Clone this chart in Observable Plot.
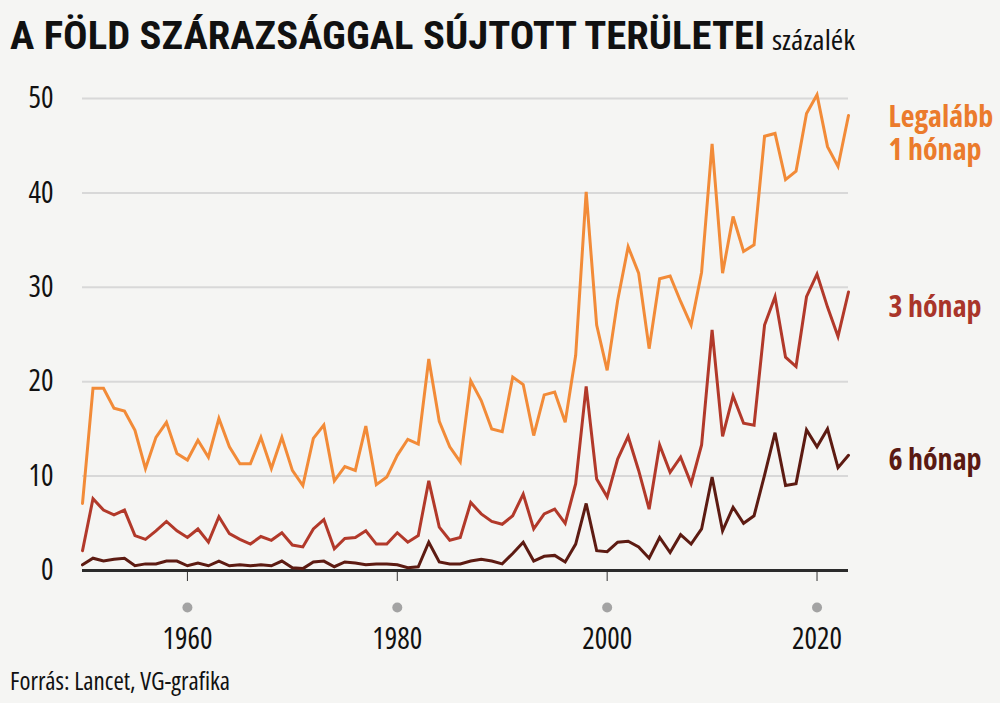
<!DOCTYPE html>
<html><head><meta charset="utf-8">
<script src="https://cdn.jsdelivr.net/npm/d3@7"></script>
<script src="https://cdn.jsdelivr.net/npm/@observablehq/plot@0.6"></script>
<style>
html,body{margin:0;padding:0;background:#f5f5f3;}
body{width:1000px;height:703px;overflow:hidden;position:relative;}
#title{height:70px;position:relative;white-space:nowrap;}
.abs{position:absolute;display:inline-block;line-height:1;white-space:nowrap;transform-origin:0 50%;}
#t1{left:10px;top:17px;font-family:Roboto,sans-serif;font-stretch:75%;font-size:39px;font-weight:bold;color:#111;}
#t2{left:772px;top:25px;font-family:"Open Sans",sans-serif;font-stretch:75%;font-size:28px;color:#111;}
#chart svg text{font-family:"Open Sans",sans-serif;font-stretch:75%;}
#caption{left:10px;top:667px;font-family:"Open Sans",sans-serif;font-stretch:75%;font-size:26px;color:#111;}
</style></head><body>
<div id="title"><span id="t1" class="abs">A FÖLD SZÁRAZSÁGGAL SÚJTOTT TERÜLETEI</span><span id="t2" class="abs">százalék</span></div>
<div id="chart"></div>
<span id="caption" class="abs">Forrás: Lancet, VG-grafika</span>
<script>
const years = d3.range(1950, 2024);
const legalabb1 = [7.1,19.3,19.3,17.2,16.9,14.85,10.8,14.1,15.7,12.4,
  11.7,13.8,12.0,16.1,13.1,11.3,11.3,14.1,10.8,14.1,
  10.6,9.0,14.0,15.4,9.5,11.0,10.6,15.3,9.1,9.9,
  12.2,13.9,13.4,22.4,15.8,13.1,11.5,20.1,18.0,15.0,
  14.7,20.5,19.7,14.3,18.6,18.9,15.7,22.8,40.1,26.0,
  21.2,28.6,34.3,31.5,23.5,30.9,31.2,28.5,26.0,31.6,
  45.2,31.5,37.5,33.8,34.5,46.0,46.3,41.4,42.3,48.4,
  50.4,44.9,42.8,48.2];
const honap3 = [2.1,7.6,6.4,5.9,6.4,3.7,3.3,4.2,5.2,4.2,
  3.5,4.4,3.0,5.7,3.9,3.3,2.8,3.6,3.2,4.0,
  2.7,2.5,4.4,5.4,2.3,3.4,3.5,4.2,2.8,2.8,
  4.0,3.0,3.7,9.5,4.6,3.2,3.5,7.2,6.0,5.2,
  4.9,5.8,8.1,4.4,6.0,6.5,5.0,9.2,19.5,9.7,
  7.8,11.8,14.2,10.6,6.5,13.3,10.4,12.0,9.2,13.3,
  25.5,14.2,18.5,15.6,15.4,26.0,29.0,22.6,21.6,29.0,
  31.4,27.9,24.8,29.5];
const honap6 = [0.6,1.3,1.0,1.2,1.3,0.5,0.7,0.7,1.0,1.0,
  0.5,0.8,0.5,1.0,0.5,0.6,0.5,0.6,0.5,1.0,
  0.3,0.2,0.9,1.0,0.4,0.9,0.8,0.6,0.7,0.7,
  0.6,0.3,0.4,3.0,0.9,0.7,0.7,1.0,1.2,1.0,
  0.7,1.8,3.0,1.0,1.5,1.6,0.9,2.8,7.1,2.1,
  2.0,3.0,3.1,2.5,1.3,3.5,1.9,3.8,2.8,4.4,
  9.9,4.2,6.7,5.0,5.8,10.1,14.6,9.0,9.2,14.9,
  13.1,15.0,10.9,12.2];
const yTicks = [0,10,20,30,40,50];
const xTicks = [1960,1980,2000,2020];
const seriesNames = ["Legalább\n1 hónap","3 hónap","6 hónap"];
const colors = ["#f28b38","#b2392a","#5d1b12"];
const labelColors = ["#eb7b2c","#a9352a","#5a1a12"];

const series = [legalabb1, honap3, honap6];
const data = series.flatMap((vals, i) => vals.map((v, j) => ({year: years[j], value: v, s: i})));
const last = series.map((vals, i) => ({year: years[years.length-1], value: vals[vals.length-1], s: i, name: seriesNames[i]}));

const chart = Plot.plot({
  width: 1000, height: 595,
  marginLeft: 82, marginRight: 152, marginTop: 28, marginBottom: 95,
  style: {background: "transparent", color: "#111"},
  x: {domain: [1950, 2023]},
  y: {domain: [0, 50]},
  marks: [
    Plot.gridY(yTicks.filter(d => d > 0), {stroke: "#d8d8d8", strokeOpacity: 1, strokeWidth: 2}),
    Plot.axisY(yTicks, {tickSize: 0, tickPadding: 29, fontSize: 30, label: null, tickFormat: d => String(d)}),
    Plot.axisX(xTicks, {tickSize: 11, tickPadding: 46, fontSize: 30, label: null, tickFormat: d => String(d), stroke: "#333"}),
    Plot.dot(xTicks, {x: d => d, frameAnchor: "bottom", dy: 37, r: 5, fill: "#a3a3a3", stroke: null}),
    Plot.ruleY([0], {stroke: "#2b2b2b", strokeWidth: 3}),
    Plot.line(data, {x: "year", y: "value", z: "s", stroke: d => colors[d.s], strokeWidth: 3, strokeLinejoin: "miter", strokeMiterlimit: 4}),
    Plot.text([last[0]], {x: "year", y: "value", text: "name", dx: 40, dy: 17, textAnchor: "start", fill: labelColors[0], fontSize: 30, fontWeight: "bold", lineHeight: 1.1, ariaLabel: "lab0"}),
    Plot.text([last[1]], {x: "year", y: "value", text: "name", dx: 40, dy: 15, textAnchor: "start", fill: labelColors[1], fontSize: 30, fontWeight: "bold", ariaLabel: "lab1"}),
    Plot.text([last[2]], {x: "year", y: "value", text: "name", dx: 40, dy: 5, textAnchor: "start", fill: labelColors[2], fontSize: 30, fontWeight: "bold", ariaLabel: "lab2"})
  ]
});
document.getElementById("chart").appendChild(chart);

// condense glyphs horizontally (textLength) to match the narrow typeface of the original
function parts(t) {
  const tsp = t.querySelectorAll("tspan");
  return tsp.length ? Array.from(tsp) : [t];
}
function condense(nodes, target) {
  nodes = Array.from(nodes);
  if (!nodes.length) return;
  const w0 = Math.max(...parts(nodes[0]).map(e => e.getComputedTextLength()));
  if (!(w0 > 0)) return;
  const sx = Math.min(1, target / w0);
  for (const t of nodes) {
    for (const e of parts(t)) {
      const w = e.getComputedTextLength();
      e.setAttribute("textLength", (w * sx).toFixed(2));
      e.setAttribute("lengthAdjust", "spacingAndGlyphs");
    }
  }
}
const xs = Array.from(chart.querySelectorAll('g[aria-label="x-axis tick label"] text'));
condense(xs, 50);
const ys = Array.from(chart.querySelectorAll('g[aria-label="y-axis tick label"] text'));
const yref = ys.find(t => t.textContent.trim() === "50");
if (yref) condense([yref, ...ys.filter(t => t !== yref)], 25);
condense(chart.querySelectorAll('g[aria-label="lab0"] text'), 102);
condense(chart.querySelectorAll('g[aria-label="lab1"] text'), 88);
condense(chart.querySelectorAll('g[aria-label="lab2"] text'), 88);

function fitHtml(id, target) {
  const el = document.getElementById(id);
  const w = el.getBoundingClientRect().width;
  el.style.transform = `scaleX(${target / w})`;
}
fitHtml("t1", 755);
fitHtml("t2", 83);
fitHtml("caption", 220);
</script>
</body></html>
